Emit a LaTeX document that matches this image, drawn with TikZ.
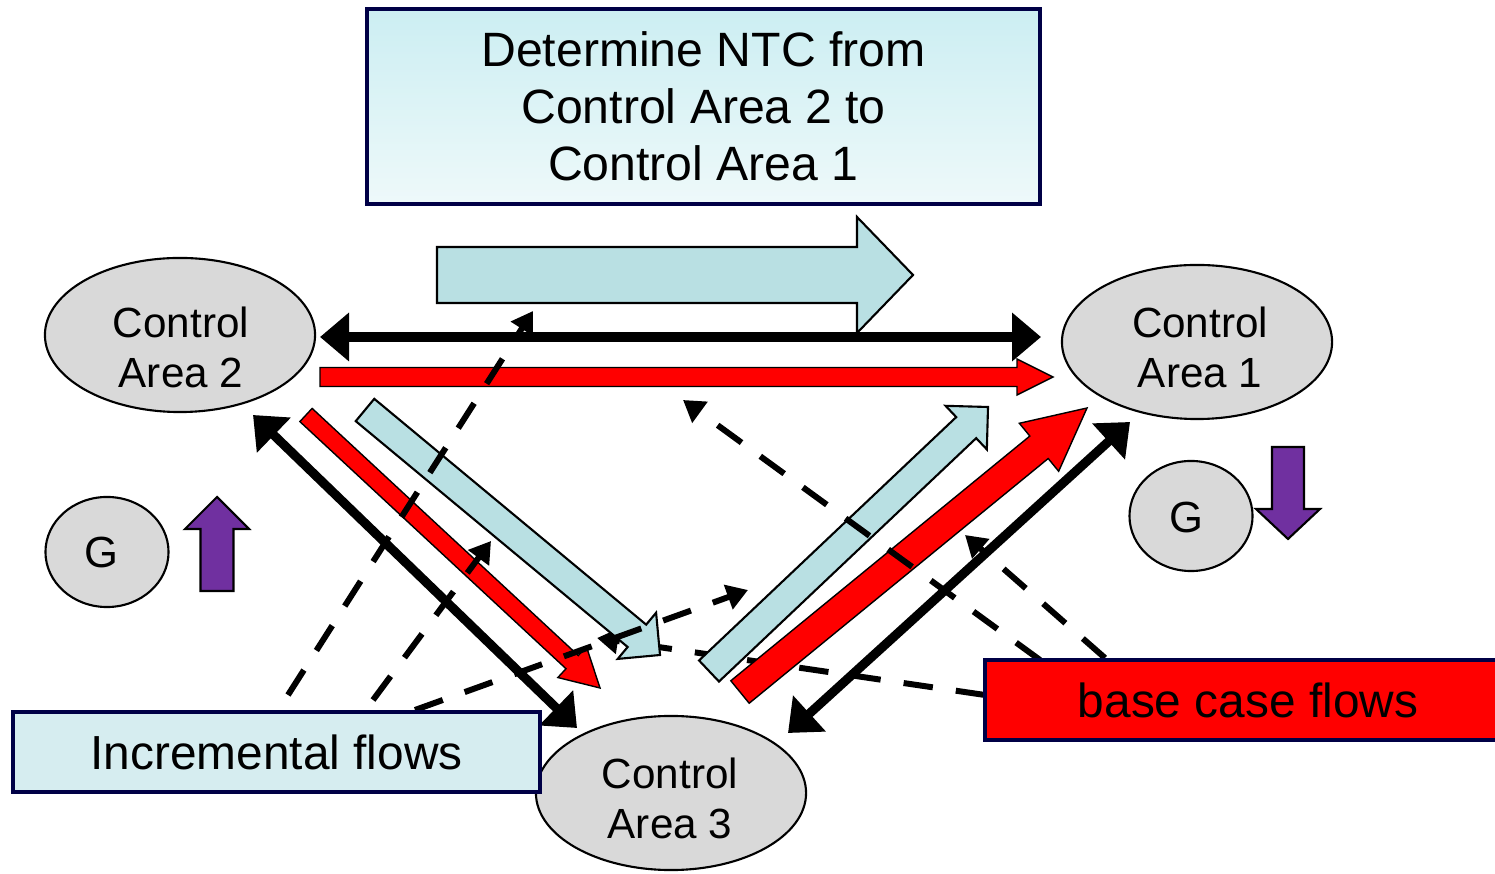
\documentclass[tikz,border=0pt]{standalone}
\usepackage{fontspec}
\setmainfont{Liberation Sans}
\usetikzlibrary{arrows.meta,calc,shapes.geometric}

\definecolor{areagray}{RGB}{217,217,217}
\definecolor{flowblue}{RGB}{185,224,227}
\definecolor{boxblue}{RGB}{214,237,240}
\definecolor{boxnavy}{RGB}{0,0,70}
\definecolor{genpurple}{RGB}{112,48,160}

% block arrow: style, tail, tip, shaft half width, head half width, head length
\newcommand{\fatarrow}[6]{%
  \coordinate (fa-base) at ($(#3)!#6!(#2)$);
  \draw[#1] ($(#2)!#4!90:(#3)$) -- ($(fa-base)!#4!90:(#3)$)
  -- ($(fa-base)!#5!90:(#3)$) -- (#3) -- ($(fa-base)!#5!-90:(#3)$)
  -- ($(fa-base)!#4!-90:(#3)$) -- ($(#2)!#4!-90:(#3)$) -- cycle;
}

\tikzset{
  area/.style = {ellipse, draw = black, line width = 0.6pt, fill = areagray,
    minimum width = 2.7cm, minimum height = 1.54cm, inner sep = 0pt},
  gen/.style = {area, minimum width = 1.23cm, minimum height = 1.1cm},
  areatext/.style = {inner sep = 0pt, align = center,
    font = \fontsize{12}{14.2}\selectfont},
  labelbox/.style = {draw = boxnavy, line width = 1pt, minimum width = 5.27cm,
    minimum height = 0.8cm, inner sep = 0pt, font = \fontsize{13.6}{16}\selectfont},
  lightflow/.style = {draw = black, line width = 0.6pt, fill = flowblue},
  baseflow/.style = {fill = red},
  genflow/.style = {draw = black, line width = 0.6pt, fill = genpurple},
  tie/.style = {line width = 2.6pt,
    {Triangle[length = 0.29cm, width = 0.47cm]}-{Triangle[length = 0.29cm, width = 0.47cm]}},
  share/.style = {line width = 1.7pt, dash pattern = on 8.4pt off 6.6pt,
    -{Triangle[length = 0.21cm, width = 0.25cm]}}
}

\begin{document}
\begin{tikzpicture}[x = 0.01cm, y = -0.01cm]
  \useasboundingbox (0, 0) rectangle (1495, 874);

  % control areas and generators
  \node[area] (ca2) at (180, 335) {};
  \node[area] (ca1) at (1197, 342) {};
  \node[area] (ca3) at (671, 793) {};
  \node[gen] (g2) at (107, 552) {};
  \node[gen] (g1) at (1191, 516) {};
  \node[areatext] (ca2-txt) at (181, 347) {Control\\Area 2};
  \node[areatext] (ca1-txt) at (1200, 347) {Control\\Area 1};
  \node[areatext] (ca3-txt) at (670, 798) {Control\\Area 3};
  \node[areatext, font = \fontsize{12.4}{14}\selectfont] (g2-txt) at (101, 552) {G};
  \node[areatext, font = \fontsize{12.4}{14}\selectfont] (g1-txt) at (1186, 517) {G};

  % end points of the flows
  \coordinate (nt-t) at (437, 275);   \coordinate (nt-h) at (913, 275);
  \coordinate (i23-t) at (365, 410);  \coordinate (i23-h) at (660, 655);
  \coordinate (i31-t) at (709, 671);  \coordinate (i31-h) at (988, 407);
  \coordinate (b21-t) at (320, 377);  \coordinate (b21-h) at (1053, 377);
  \coordinate (b23-t) at (306, 415);  \coordinate (b23-h) at (600, 688);
  \coordinate (b31-t) at (740, 692);  \coordinate (b31-h) at (1087, 408);
  \coordinate (t21-l) at (320, 337);  \coordinate (t21-r) at (1041, 337);
  \coordinate (t23-a) at (253, 415);  \coordinate (t23-b) at (577, 728);
  \coordinate (t31-a) at (788, 733);  \coordinate (t31-b) at (1130, 422);
  \coordinate (gu-t) at (217, 591);   \coordinate (gu-h) at (217, 497);
  \coordinate (gd-t) at (1288, 447);  \coordinate (gd-h) at (1288, 539);

  % dashed share hidden under the incremental arrow
  \draw[share] (985, 695) coordinate (s6) -- (597, 638) coordinate (e6);

  \fatarrow{lightflow}{nt-t}{nt-h}{0.28cm}{0.58cm}{0.56cm}
  \fatarrow{lightflow}{i23-t}{i23-h}{0.145cm}{0.3cm}{0.3cm}
  \fatarrow{lightflow}{i31-t}{i31-h}{0.145cm}{0.3cm}{0.3cm}
  \fatarrow{baseflow}{b21-t}{b21-h}{0.095cm}{0.18cm}{0.36cm}
  \fatarrow{baseflow}{b23-t}{b23-h}{0.09cm}{0.21cm}{0.38cm}
  \fatarrow{baseflow}{b31-t}{b31-h}{0.145cm}{0.31cm}{0.62cm}
  \fatarrow{genflow}{gu-t}{gu-h}{0.165cm}{0.32cm}{0.32cm}
  \fatarrow{genflow}{gd-t}{gd-h}{0.16cm}{0.32cm}{0.3cm}

  \draw[tie, line width = 3pt] (t21-l) -- (t21-r);
  \draw[tie] (t23-a) -- (t23-b);
  \draw[tie] (t31-a) -- (t31-b);

  % shares of the flows
  \foreach \sx/\sy/\ex/\ey [count = \i] in {288/695/533/311, 373/700/491/541,
    415/710/748/590, 1040/660/683/400, 1105/658/965/535}{
    \draw[share] (\sx, \sy) coordinate (s\i) -- (\ex, \ey) coordinate (e\i);
  }

  % captions
  \node[labelbox, minimum width = 6.73cm, minimum height = 1.95cm, align = center,
  top color = {rgb,255:red,204;green,238;blue,242},
  bottom color = {rgb,255:red,238;green,249;blue,250},
  font = \fontsize{13.7}{16.2}\selectfont] (ntc) at (703.5, 106.5)
  {Determine NTC from\\Control Area 2 to\\Control Area 1};
  \node[labelbox, fill = boxblue] (incr) at (276.5, 752) {Incremental flows};
  \node[labelbox, fill = red, minimum width = 5.26cm] (base) at (1248, 700) {base case flows};
\end{tikzpicture}
\end{document}
